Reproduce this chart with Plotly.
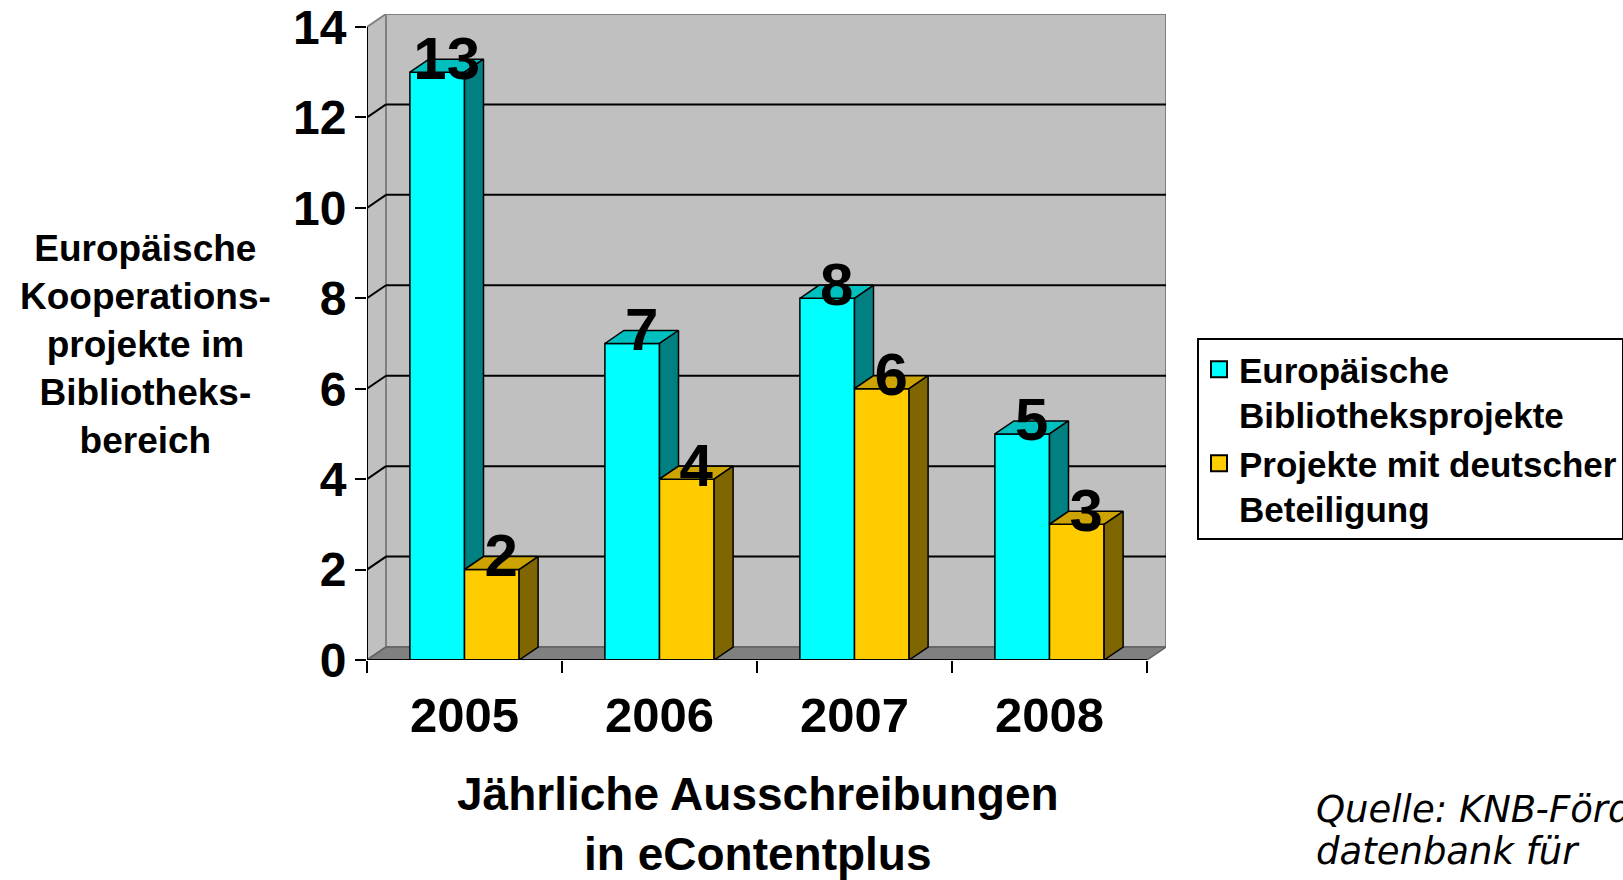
import plotly.graph_objects as go

# ---------------- data ----------------
years = ["2005", "2006", "2007", "2008"]
europe = [13, 7, 8, 5]          # Europäische Bibliotheksprojekte
german = [2, 4, 6, 3]           # Projekte mit deutscher Beteiligung
series_names = ["Europäische<br>Bibliotheksprojekte",
                "Projekte mit deutscher<br>Beteiligung"]
y_ticks = [0, 2, 4, 6, 8, 10, 12, 14]
y_title = "Europäische<br>Kooperations-<br>projekte im<br>Bibliotheks-<br>bereich"
x_title = "Jährliche Ausschreibungen<br>in eContentplus"
source_lines = ["Quelle: KNB-Förder-", "datenbank für"]

# ---------------- geometry / style ----------------
W, H = 1623, 880
L, R, T, B = 367, 457, 14, 220
plot_w = W - L - R
plot_h = H - T - B
DX_PX, DY_PX = 19, 13
ymax = max(y_ticks)
ncat = len(years)
px_per_y = (plot_h - DY_PX) / ymax
px_per_x = (plot_w - DX_PX) / ncat
DX = DX_PX / px_per_x
DY = DY_PX / px_per_y
BW = 0.28
xs = list(range(ncat))

FONT = "Arial, 'Liberation Sans', sans-serif"
CYAN, CYAN_TOP, CYAN_SIDE = "#00FFFF", "#00BFBF", "#008080"
YEL, YEL_TOP, YEL_SIDE = "#FFCC00", "#CCA300", "#806600"
WALL, WALL_EDGE, FLOOR = "#C0C0C0", "#808080", "#808080"

fig = go.Figure()

# front faces
fig.add_trace(go.Bar(x=xs, y=europe, width=BW, offset=-BW,
                     marker=dict(color=CYAN, line=dict(color="black", width=1.5)),
                     showlegend=False, hoverinfo="skip"))
fig.add_trace(go.Bar(x=xs, y=german, width=BW, offset=0,
                     marker=dict(color=YEL, line=dict(color="black", width=1.5)),
                     showlegend=False, hoverinfo="skip"))


def faces(x0s, vals, bases):
    tx, ty, sx, sy = [], [], [], []
    for x0, v, b in zip(x0s, vals, bases):
        x1 = x0 + BW
        tx += [x0, x1, x1 + DX, x0 + DX, x0, None]
        ty += [v, v, v + DY, v + DY, v, None]
        sx += [x1, x1 + DX, x1 + DX, x1, x1, None]
        sy += [b, b + DY, v + DY, v, b, None]
    return tx, ty, sx, sy


cyan_x0 = [x - BW for x in xs]
yel_x0 = [x for x in xs]
cyan_base = [min(g, e) for g, e in zip(german, europe)]
ctx, cty, csx, csy = faces(cyan_x0, europe, cyan_base)
ytx, yty, ysx, ysy = faces(yel_x0, german, [0] * ncat)

for fx, fy, col in [(ctx, cty, CYAN_TOP), (csx, csy, CYAN_SIDE),
                    (ytx, yty, YEL_TOP), (ysx, ysy, YEL_SIDE)]:
    fig.add_trace(go.Scatter(x=fx, y=fy, mode="lines", fill="toself",
                             fillcolor=col, line=dict(color="black", width=1.5),
                             showlegend=False, hoverinfo="skip"))

# data labels
lab_off = DY / 2 + 2 / px_per_y
fig.add_trace(go.Scatter(
    x=[x0 + BW / 2 + DX / 2 for x0 in cyan_x0] + [x0 + BW / 2 + DX / 2 for x0 in yel_x0],
    y=[v + lab_off for v in europe] + [v + lab_off for v in german],
    text=[str(v) for v in europe] + [str(v) for v in german],
    mode="text", textposition="middle center",
    textfont=dict(family=FONT, size=60, color="black", weight="bold"),
    cliponaxis=False, showlegend=False, hoverinfo="skip"))

# legend entries
for name, col in zip(series_names, [CYAN, YEL]):
    fig.add_trace(go.Scatter(x=[None], y=[None], mode="markers", name=name,
                             marker=dict(symbol="square", size=16, color=col,
                                         line=dict(color="black", width=2))))

# ---------------- walls, floor, grid ----------------
x_lo, x_hi = -0.5, ncat - 0.5
shapes = []


def poly(pts):
    return "M " + " L ".join(f"{x},{y}" for x, y in pts) + " Z"


shapes.append(dict(type="path", xref="x", yref="y", layer="below",
                   path=poly([(x_lo, 0), (x_lo + DX, DY), (x_lo + DX, ymax + DY), (x_lo, ymax)]),
                   fillcolor=WALL, line=dict(color=WALL_EDGE, width=2)))
shapes.append(dict(type="rect", xref="x", yref="y", layer="below",
                   x0=x_lo + DX, y0=DY, x1=x_hi + DX, y1=ymax + DY,
                   fillcolor=WALL, line=dict(color=WALL_EDGE, width=2)))
shapes.append(dict(type="path", xref="x", yref="y", layer="below",
                   path=poly([(x_lo, 0), (x_hi, 0), (x_hi + DX, DY), (x_lo + DX, DY)]),
                   fillcolor=FLOOR, line=dict(color="#606060", width=1.5)))
for v in y_ticks[1:-1]:
    shapes.append(dict(type="line", xref="x", yref="y", layer="below",
                       x0=x_lo + DX, y0=v + DY, x1=x_hi + DX, y1=v + DY,
                       line=dict(color="black", width=2)))
    shapes.append(dict(type="line", xref="x", yref="y", layer="below",
                       x0=x_lo, y0=v, x1=x_lo + DX, y1=v + DY,
                       line=dict(color="black", width=2)))
# axis lines
shapes.append(dict(type="line", xref="x", yref="y", layer="above",
                   x0=x_lo, y0=0, x1=x_lo, y1=ymax, line=dict(color="black", width=2)))
shapes.append(dict(type="line", xref="x", yref="y", layer="above",
                   x0=x_lo, y0=0, x1=x_hi, y1=0, line=dict(color="black", width=2)))

# ---------------- annotations ----------------
def px_to_paper_x(px):
    return (px - L) / plot_w


def px_to_paper_y(py):
    return (H - B - py) / plot_h


annotations = [
    dict(text=y_title, xref="paper", yref="paper",
         x=px_to_paper_x(145), y=px_to_paper_y(345), xanchor="center", yanchor="middle",
         showarrow=False, align="center",
         font=dict(family=FONT, size=37, color="black", weight="bold")),
    dict(text=x_title, xref="paper", yref="paper",
         x=px_to_paper_x(758), y=px_to_paper_y(824), xanchor="center", yanchor="middle",
         showarrow=False, align="center",
         font=dict(family=FONT, size=46, color="black", weight="bold")),
]
for i, line in enumerate(source_lines):
    annotations.append(dict(text=line, xref="paper", yref="paper",
                            x=px_to_paper_x(1314), y=px_to_paper_y(809 + 43 * i),
                            xanchor="left", yanchor="middle", showarrow=False,
                            font=dict(family="Verdana, 'DejaVu Sans', sans-serif",
                                      size=37, color="black", style="italic")))

fig.update_layout(
    width=W, height=H,
    margin=dict(l=L, r=R, t=T, b=B, pad=0, autoexpand=False),
    paper_bgcolor="white", plot_bgcolor="white",
    barmode="overlay",
    shapes=shapes, annotations=annotations,
    showlegend=True,
    legend=dict(xref="container", yref="container",
                x=1197 / W, y=1 - 338 / H, xanchor="left", yanchor="top",
                bordercolor="black", borderwidth=2, bgcolor="white", valign="top",
                font=dict(family=FONT, size=35, color="black", weight="bold"),
                itemsizing="trace", tracegroupgap=0,
                entrywidthmode="pixels", entrywidth=470),
    xaxis=dict(range=[x_lo, x_hi + DX], tickmode="array", tickvals=xs, ticktext=years,
               ticks="", showgrid=False, zeroline=False, showline=False, automargin=False,
               tickfont=dict(family=FONT, size=49, color="black", weight="bold"),
               ticklabelstandoff=22,
               minor=dict(tickmode="array", tickvals=[x - 0.5 for x in range(ncat + 1)],
                          ticks="outside", ticklen=12, tickwidth=2, tickcolor="black",
                          showgrid=False)),
    yaxis=dict(range=[0, ymax + DY], tickmode="array", tickvals=y_ticks,
               ticks="outside", ticklen=11, tickwidth=2, tickcolor="black",
               showgrid=False, zeroline=False, showline=False, automargin=False,
               tickfont=dict(family=FONT, size=48, color="black", weight="bold"),
               ticklabelstandoff=-1),
)

fig.write_html("out.html",
               config={"displayModeBar": False},
               post_script="document.body.style.margin='0';document.body.style.overflow='hidden';")
